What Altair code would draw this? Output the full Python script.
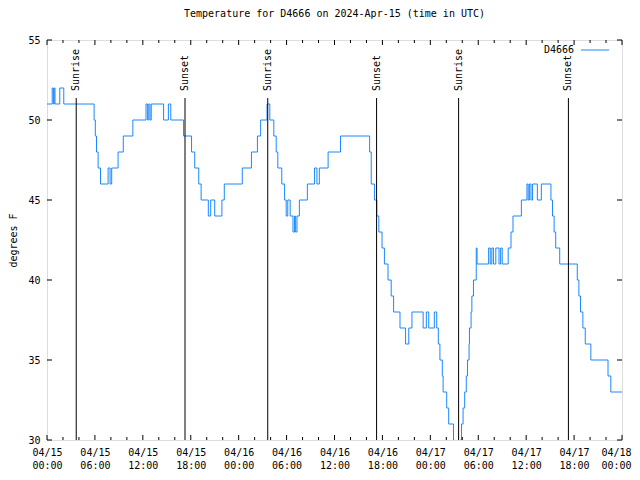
import altair as alt
import pandas as pd

# ---- data (hours since 2024-04-15 00:00 UTC, temperature in degrees F) ----
hours = [0, 0.65, 0.8, 0.9, 1.0, 1.6, 2.1,
         5.9, 6.05, 6.2, 6.4, 6.7,
         7.65, 7.9, 8.1, 8.9, 9.55, 10.75,
         12.4, 12.6, 12.75, 12.9, 13.05, 14.6, 15.2, 15.5,
         17.1, 18.1, 18.5, 19.0, 19.3, 20.2, 20.5, 21.0, 21.9, 22.2,
         24.45, 25.6, 26.35, 26.75, 27.55, 27.9, 28.4, 28.7, 28.9, 29.4,
         29.75, 29.95, 30.15, 30.45, 30.8, 31.0, 31.1, 31.3, 31.6, 32.6,
         33.5, 33.8, 34.1, 35.2, 36.75, 40.4, 40.6, 41.0, 41.3, 41.55,
         41.95, 42.25, 42.7, 43.1, 43.4, 44.2, 44.9, 45.3, 45.7, 47.1,
         47.5, 47.8, 48.5, 48.8, 49.0, 49.2, 49.5, 49.6, 50.05, 50.3,
         50.9, 51.0, 51.75, 51.9, 52.1, 52.3, 52.5, 52.65, 52.85, 52.9,
         53.1, 53.2, 53.4, 53.75, 53.85, 55.3, 55.5, 55.7, 55.9, 56.2,
         56.6, 56.8, 57.0, 57.75, 58.1, 58.35, 59.4, 60.1, 60.25, 60.4,
         60.6, 60.8, 61.4, 61.9, 63.1, 63.3, 63.5, 63.7, 64.2, 66.4,
         66.6, 66.8, 67.1, 67.4, 68.1, 70.25, 70.6, 72]
temps = [51, 52, 51, 52, 51, 52, 51,
         50, 49, 48, 47, 46,
         47, 46, 47, 48, 49, 50,
         51, 50, 51, 50, 51, 50, 51, 50,
         49, 48, 47, 46, 45, 44, 45, 44, 45, 46,
         47, 48, 49, 50, 51, 50, 49, 48, 47, 46,
         45, 44, 45, 44, 43, 44, 43, 44, 45, 46,
         47, 46, 47, 48, 49, 48, 46, 45, 44, 43,
         42, 41, 40, 39, 38, 37, 36, 37, 38, 37,
         38, 37, 38, 37, 36, 35, 34, 33, 32, 31,
         30, 29, 30, 31, 32, 33, 34, 35, 36, 37,
         38, 39, 40, 42, 41, 42, 41, 42, 41, 42,
         41, 42, 41, 42, 43, 44, 45, 46, 45, 46,
         45, 46, 45, 46, 45, 44, 43, 42, 41, 40,
         39, 38, 37, 36, 35, 34, 33, 33]

event_hours = [3.66, 17.28, 27.64, 41.27, 51.54, 65.29]
event_labels = ["Sunrise", "Sunset", "Sunrise", "Sunset", "Sunrise", "Sunset"]

xtick_hours = list(range(0, 73, 6))
xtick_dates = ["04/15", "04/15", "04/15", "04/15", "04/16", "04/16", "04/16",
               "04/16", "04/17", "04/17", "04/17", "04/17", "04/18"]
xtick_times = ["00:00", "06:00", "12:00", "18:00", "00:00", "06:00", "12:00",
               "18:00", "00:00", "06:00", "12:00", "18:00", "00:00"]
minor_x = [h for h in range(0, 73, 2) if h % 6 != 0]
ytick_values = [30, 35, 40, 45, 50, 55]

series_name = "D4666"
title_text = "Temperature for D4666 on 2024-Apr-15 (time in UTC)"
y_title = "degrees F"

LINE = "#1a88ff"
FONT = "DejaVu Sans Mono"
W, H = 575, 400

df = pd.DataFrame({"h": hours, "t": temps})
ev = pd.DataFrame({"h": event_hours, "label": event_labels})
major_df = pd.DataFrame({"h": xtick_hours})
minor_df = pd.DataFrame({"h": minor_x})
ytick_df = pd.DataFrame({"t": ytick_values})
leg_df = pd.DataFrame({"name": [series_name]})

label_arr = "[" + ",".join("['%s','%s']" % (d, t) for d, t in zip(xtick_dates, xtick_times)) + "]"
label_expr = label_arr + "[round(datum.value/6)]"
last_tick = "datum.value == %d" % xtick_hours[-1]

xscale = alt.Scale(domain=[0, 72], nice=False, zero=False)
yscale = alt.Scale(domain=[30, 55], nice=False, zero=False)

xaxis = alt.Axis(
    values=xtick_hours, labelExpr=label_expr, ticks=False, tickSize=0, domain=False, grid=False,
    title=None, labelFont=FONT, labelFontSize=10, labelColor="black", labelAngle=0,
    labelAlign={"condition": {"test": last_tick, "value": "right"}, "value": "center"},
    labelOffset={"condition": {"test": last_tick, "value": 9}, "value": 0},
    labelBaseline="top", labelLineHeight=13, labelPadding=7, labelFlush=False, labelOverlap=False)
yaxis = alt.Axis(
    values=ytick_values, ticks=False, tickSize=0, domain=False, grid=False,
    labelFont=FONT, labelFontSize=10, labelColor="black", labelPadding=7, labelFlush=False,
    title=y_title, titleFont=FONT, titleFontSize=10, titleFontWeight="normal", titleColor="black",
    titleX=-34, titleY=H / 2, titleAngle=270, titleAlign="center", titleBaseline="middle")

X = lambda: alt.X("h:Q", scale=xscale, axis=xaxis)
Y = lambda: alt.Y("t:Q", scale=yscale, axis=yaxis)

line = alt.Chart(df).mark_line(interpolate="step-after", color=LINE, strokeWidth=1, clip=True).encode(
    x=X(), y=Y())

def xticks(data, y0, y1):
    return alt.Chart(data).mark_rule(color="black", strokeWidth=1).encode(
        x=X(), y=alt.value(y0), y2=alt.value(y1))

def yticks(x0, x1):
    return alt.Chart(ytick_df).mark_rule(color="black", strokeWidth=1).encode(
        y=Y(), x=alt.value(x0), x2=alt.value(x1))

tick_layers = [
    xticks(major_df, H, H - 5), xticks(major_df, 0, 5),
    xticks(minor_df, H, H - 3), xticks(minor_df, 0, 3),
    yticks(0, 5), yticks(W, W - 5),
]

ev_rules = alt.Chart(ev).mark_rule(color="black", strokeWidth=1).encode(
    x=X(), y=alt.value(58), y2=alt.value(H))
ev_text = alt.Chart(ev).mark_text(angle=270, align="left", baseline="middle", font=FONT,
                                  fontSize=10, color="black", dx=1).encode(
    x=X(), y=alt.value(52), text="label:N")

leg_text = alt.Chart(leg_df).mark_text(align="right", baseline="middle", font=FONT,
                                       fontSize=10, color="black").encode(
    x=alt.value(527), y=alt.value(10), text="name:N")
leg_line = alt.Chart(leg_df).mark_rule(color=LINE, strokeWidth=1).encode(
    x=alt.value(534), x2=alt.value(562), y=alt.value(10))

chart = alt.layer(line, *tick_layers, ev_rules, ev_text, leg_text, leg_line).properties(
    width=W, height=H,
    title=alt.TitleParams(title_text, font=FONT, fontSize=10, fontWeight="normal",
                          color="black", anchor="middle", offset=16),
    autosize=alt.AutoSizeParams(type="none"),
    padding={"left": 39, "top": 32, "right": 10, "bottom": 31},
).configure_view(stroke="black", strokeWidth=1).configure(background="white")

chart.save("out.html", embed_options={"renderer": "svg", "actions": False})
